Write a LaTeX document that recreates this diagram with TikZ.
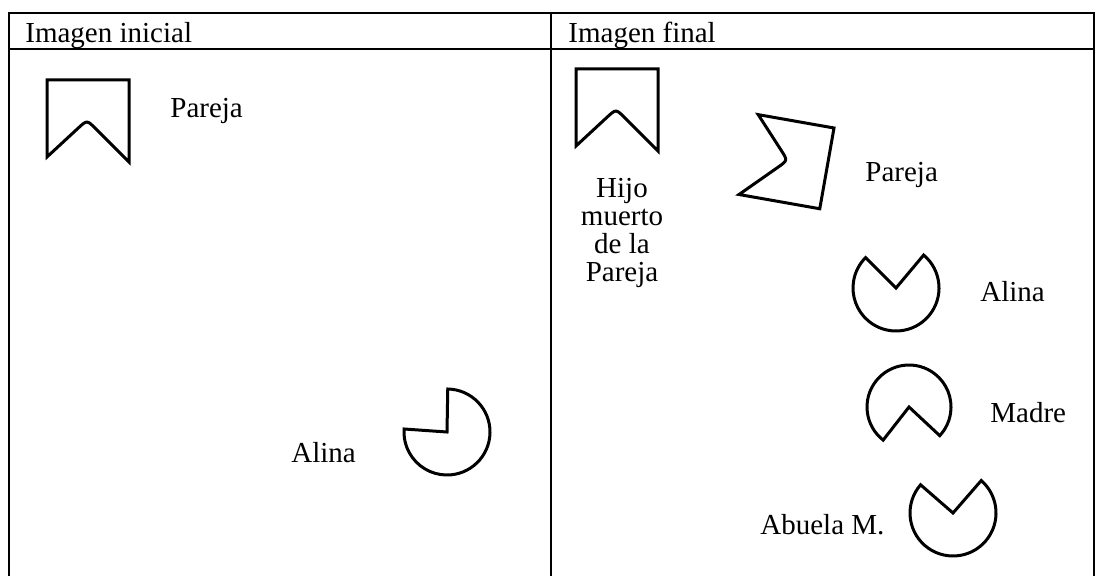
\documentclass[tikz,border=0pt]{standalone}
\usepackage{fontspec}
\setmainfont{Liberation Serif}

\begin{document}
\begin{tikzpicture}[
  x=0.5pt, y=-0.5pt,
  font=\fontsize{14.5}{15.5}\selectfont,
  tabla/.style={line width=1pt},
  figura/.style={line width=1.5pt},
  rotulo/.style={anchor=base west, inner sep=0pt},
  banderin/.pic={
    \draw[figura] (0,77) -- (0,0) -- (82,0) -- (82,82) -- (48.5,48.5)
      .. controls (40,40) .. (31.2,48.1) -- cycle;
  }
]
\useasboundingbox (0,0) rectangle (1095,576);

% tabla
\draw [tabla] (9,576) -- (9,13) -- (1094,13) -- (1094,576);
\draw [tabla] (9,49) -- (1094,49);
\draw [tabla] (551,13) -- (551,576);
\node [rotulo] (tituloIni) at (25,43) {Imagen inicial};
\node [rotulo] (tituloFin) at (568,43) {Imagen final};

% imagen inicial
\pic at (47,80) {banderin};
\node [rotulo] (parejaIni) at (170,118) {Pareja};
\draw [figura] (447,432) -- ++(271:43) arc [start angle=271, end angle=544, radius=43] -- cycle;
\node [rotulo] (alinaIni) at (291,462) {Alina};

% imagen final
\pic at (576,69) {banderin};
\node [align=center, anchor=base, inner sep=0pt, font=\fontsize{14.5}{14}\selectfont]
  (hijo) at (622,282) {Hijo\\muerto\\de la\\Pareja};
\pic [rotate=-100] at (834,128) {banderin};
\node [rotulo] (parejaFin) at (865,182) {Pareja};
\draw [figura] (896,288) -- ++(310:43) arc [start angle=310, end angle=585, radius=43] -- cycle;
\node [rotulo] (alinaFin) at (980,302) {Alina};
\draw [figura] (909,407) -- ++(128:42) arc [start angle=128, end angle=403, radius=42] -- cycle;
\node [rotulo] (madre) at (990,422) {Madre};
\draw [figura] (953,513) -- ++(311:43) arc [start angle=311, end angle=581, radius=43] -- cycle;
\node [rotulo] (abuela) at (760,534) {Abuela M.};
\end{tikzpicture}
\end{document}
